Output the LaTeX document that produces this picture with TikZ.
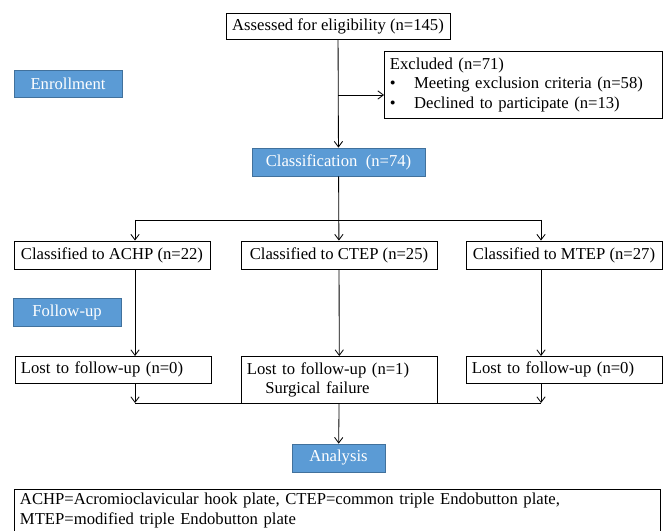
\documentclass[tikz,border=0pt]{standalone}
\usepackage{fontspec}
\setmainfont{Liberation Serif}
\usetikzlibrary{arrows.meta}
\definecolor{phaseblue}{HTML}{5B9BD5}
\definecolor{phaseline}{HTML}{41719C}
\begin{document}
\begin{tikzpicture}[x=0.72pt,y=-0.72pt,font=\fontsize{12}{14}\selectfont,
	box/.style={draw,line width=0.6pt,inner sep=0pt,minimum height=20.2pt},
	leftbox/.style={box,align=left,inner xsep=4pt,anchor=north west},
	phase/.style={fill=phaseblue,draw=phaseline,line width=0.5pt,text=white,inner sep=0pt,minimum height=20.2pt},
	link/.style={line width=0.6pt,-{Straight Barb[length=4pt,width=6pt]}}]
	\useasboundingbox (0,0) rectangle (670,531);
	
	% enrollment
	\node[box,minimum width=161.3pt,minimum height=18.7pt] (assess) at (338,26) {Assessed for eligibility (n=145)};
	\node[leftbox,text width=192pt,minimum height=48.2pt] (excl) at (384,51) {Excluded (n=71)\\
		\makebox[1.45em][l]{\textbullet}Meeting exclusion criteria (n=58)\\
		\makebox[1.45em][l]{\textbullet}Declined to participate (n=13)};
	\node[phase,minimum width=77.8pt,minimum height=19.4pt] (enroll) at (68,83.5) {Enrollment};
	\node[phase,minimum width=124.6pt] (class) at (338.5,162) {Classification\ \ (n=74)};
	
	\coordinate (ex) at (338,95);
	\draw[link] (assess) -- (class);
	\draw[link] (ex) -- (ex -| excl.west);
	
	% allocation
	\node[box,minimum width=141.1pt] (achp) at (112,255) {Classified to ACHP (n=22)};
	\node[box,minimum width=141.1pt] (ctep) at (339,255) {Classified to CTEP (n=25)};
	\node[box,minimum width=141.1pt] (mtep) at (564,255) {Classified to MTEP (n=27)};
	
	\coordinate (bl) at (135,220);
	\coordinate (br) at (541,220);
	\draw[line width=0.6pt] (bl) -- (br);
	\draw[link] (class) -- (ctep);
	\draw[link] (bl) -- (bl |- achp.north);
	\draw[link] (br) -- (br |- mtep.north);
	
	% follow-up
	\node[phase,minimum width=77.8pt] (follow) at (67,312) {Follow-up};
	\node[leftbox,text width=133pt,minimum height=19.4pt] (lost1) at (15,356) {Lost to follow-up (n=0)};
	\node[leftbox,text width=133pt,minimum height=33.8pt] (lost2) at (241,356) {Lost to follow-up (n=1)\\
		\hspace*{1.1em}Surgical failure};
	\node[leftbox,text width=133pt,minimum height=19.4pt] (lost3) at (466,356) {Lost to follow-up (n=0)};
	
	\draw[link] (bl |- achp.south) -- (bl |- lost1.north);
	\draw[link] (ctep) -- (lost2);
	\draw[link] (br |- mtep.south) -- (br |- lost3.north);
	
	% analysis
	\coordinate (ml) at (135,403);
	\coordinate (mr) at (541,403);
	\node[phase,minimum width=67pt] (analysis) at (338.5,458) {Analysis};
	\draw[link] (bl |- lost1.south) -- (ml);
	\draw[link] (br |- lost3.south) -- (mr);
	\draw[line width=0.6pt] (ml) -- (mr);
	\draw[link] (lost2) -- (analysis);
	
	\node[leftbox,text width=457pt,minimum height=30.2pt] (note) at (14,489) {ACHP=Acromioclavicular hook plate, CTEP=common triple Endobutton plate,\\
		MTEP=modified triple Endobutton plate};
\end{tikzpicture}
\end{document}
